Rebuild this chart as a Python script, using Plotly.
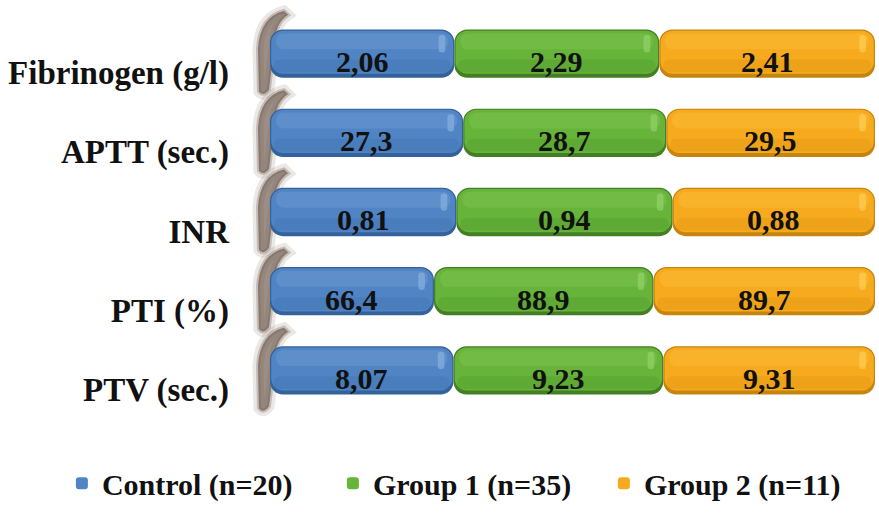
import plotly.graph_objects as go

# Coagulation parameters by study group
categories = ["Fibrinogen (g/l)", "APTT (sec.)", "INR", "PTI (%)", "PTV (sec.)"]
control = [2.06, 27.3, 0.81, 66.4, 8.07]
group1 = [2.29, 28.7, 0.94, 88.9, 9.23]
group2 = [2.41, 29.5, 0.88, 89.7, 9.31]
series_names = ["Control (n=20)", "Group 1 (n=35)", "Group 2 (n=11)"]

series = [control, group1, group2]
base_colors = ["#5084c4", "#67b43a", "#f7aa1d"]
edge_colors = ["#34629a", "#457f25", "#c5850f"]
light_colors = ["#8fb6e4", "#9ad66e", "#ffd35a"]
dark_colors = ["#3d6ea9", "#4e922a", "#d98f10"]

SERIF = "Liberation Serif"
rows = list(range(len(categories)))
totals = [sum(vals) for vals in zip(*series)]

BAR_W = 0.61     # bar thickness in row units
RADIUS = 13      # corner radius, px

fig = go.Figure()


def add_layer(starts, widths, thick, offset, color, radius, opacity=1.0,
              name=None, group=None, legend=False):
    fig.add_trace(go.Bar(
        y=rows, x=widths, base=starts, orientation="h",
        width=thick, offset=offset,
        marker=dict(color=color, line=dict(width=0), cornerradius=radius),
        opacity=opacity, name=name, legendgroup=group,
        showlegend=legend, hoverinfo="skip",
    ))


cumulative = [0.0] * len(rows)
for k, vals in enumerate(series):
    shares = [v / t * 100 for v, t in zip(vals, totals)]
    grp = series_names[k]
    top = -BAR_W / 2

    # dark rim of the tube
    add_layer(cumulative, shares, BAR_W, top, edge_colors[k], RADIUS, group=grp)
    # body
    add_layer([c + 0.2 for c in cumulative], [s - 0.4 for s in shares],
              BAR_W - 0.065, top + 0.015, base_colors[k], RADIUS - 1,
              name=grp, group=grp, legend=True)
    # shaded lower band
    add_layer([c + 0.6 for c in cumulative], [s - 1.2 for s in shares],
              0.16, top + 0.38, dark_colors[k], 8, opacity=0.28, group=grp)
    # soft light band along the top
    add_layer([c + 1.0 for c in cumulative], [s - 2.0 for s in shares],
              0.2, top + 0.05, light_colors[k], 8, opacity=0.22, group=grp)
    # specular spot near the right end
    add_layer([c + s - 2.6 for c, s in zip(cumulative, shares)], [1.1] * len(rows),
              0.22, top + 0.07, light_colors[k], 4, opacity=0.6, group=grp)

    for r, c, s, v in zip(rows, cumulative, shares, vals):
        fig.add_annotation(
            x=c + s / 2, y=r + 0.1, text=str(v).replace(".", ","), showarrow=False,
            font=dict(family=SERIF, size=30, color="#111111", weight="bold"),
        )
    cumulative = [c + s for c, s in zip(cumulative, shares)]

# Curved wall shadow behind the left end of every row
PLOT_L, PLOT_W, PLOT_T, PLOT_H = 270, 605, 14, 409


def px_to_paper(px, py):
    return (px - PLOT_L) / PLOT_W, 1 - (py - PLOT_T) / PLOT_H


for r in rows:
    cy = PLOT_T + (r + 0.5) * PLOT_H / len(rows)
    pts = [("M", 284, -44), ("Q", 260, -38), ("", 258, -5), ("L", 259, 39),
           ("Q", 263, 45), ("", 269, 37), ("L", 275, -14), ("Q", 276, -32), ("", 288, -40)]
    d = ""
    for cmd, x, dy in pts:
        px, py = px_to_paper(x, cy + dy)
        d += f"{cmd}{px:.4f},{py:.4f} "
    d += "Z"
    fig.add_shape(type="path", path=d, xref="paper", yref="paper",
                  fillcolor="rgba(110,90,75,0.25)",
                  line=dict(color="rgba(125,105,90,0.16)", width=11), layer="below")
    fig.add_shape(type="path", path=d, xref="paper", yref="paper",
                  fillcolor="rgba(104,84,70,0.55)",
                  line=dict(color="rgba(110,90,75,0.3)", width=4), layer="below")

fig.update_layout(
    width=879, height=513,
    margin=dict(l=PLOT_L, r=879 - PLOT_L - PLOT_W, t=PLOT_T, b=513 - PLOT_T - PLOT_H),
    barmode="overlay",
    paper_bgcolor="white", plot_bgcolor="rgba(0,0,0,0)",
    xaxis=dict(range=[0, 100], visible=False),
    yaxis=dict(range=[len(rows) - 0.5, -0.5], tickvals=[r + 0.24 for r in rows],
               ticktext=categories, showgrid=False, zeroline=False, showline=False,
               ticks="", ticklabelstandoff=40,
               tickfont=dict(family=SERIF, size=33, color="#111111", weight="bold")),
    legend=dict(orientation="h", x=-0.344, xanchor="left", y=-0.185, yanchor="middle",
                entrywidth=226, entrywidthmode="pixels",
                font=dict(family=SERIF, size=30, color="#111111", weight="bold"),
                traceorder="normal"),
    showlegend=True,
)

fig.write_html("out.html")
